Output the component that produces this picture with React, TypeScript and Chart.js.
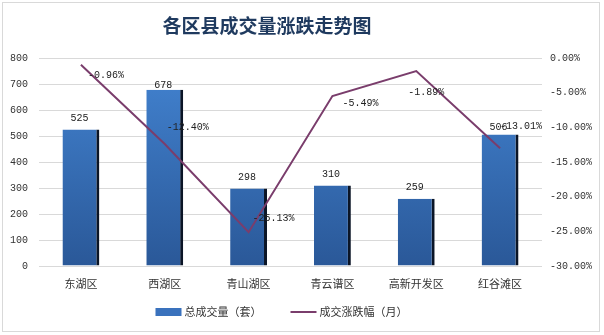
import React, { useEffect, useRef } from "react";
import { Chart, registerables } from "chart.js";

Chart.register(...registerables);

const title = "各区县成交量涨跌走势图";
const categories = ["东湖区", "西湖区", "青山湖区", "青云谱区", "高新开发区", "红谷滩区"];
const volumes = [525, 678, 298, 310, 259, 506];
const changes = [-0.96, -12.4, -25.13, -5.49, -1.89, -13.01];
const seriesNames = ["总成交量（套）", "成交涨跌幅（月）"];

const LINE_COLOR = "#7a3d6c";
const BAR_SWATCH = "#3a72bd";
const MONO = "'Liberation Mono', 'DejaVu Sans Mono', monospace";
const CJK = "'Noto Sans CJK SC', sans-serif";

const labelPlugin = {
  id: "valueLabels",
  afterDatasetsDraw(chart: any, _args: any, opts: any) {
    const ctx = chart.ctx;
    ctx.save();
    ctx.font = `10px ${MONO}`;
    ctx.fillStyle = "#222";
    ctx.textBaseline = "middle";
    const barMeta = chart.getDatasetMeta(0);
    barMeta.data.forEach((el: any, i: number) => {
      ctx.textAlign = "center";
      ctx.fillText(String(volumes[i]), el.x - 1.5, el.y - opts.barOffsets[i]);
    });
    const lineMeta = chart.getDatasetMeta(1);
    lineMeta.data.forEach((el: any, i: number) => {
      ctx.textAlign = "left";
      const [dx, dy] = opts.lineOffsets[i];
      ctx.fillText(changes[i].toFixed(2) + "%", el.x + dx, el.y + dy);
    });
    ctx.restore();
  },
  afterDraw(chart: any, _args: any, opts: any) {
    const ctx = chart.ctx;
    ctx.save();
    // title
    ctx.font = `bold 19px ${CJK}`;
    ctx.fillStyle = "#1f3a5f";
    ctx.textAlign = "center";
    ctx.textBaseline = "middle";
    ctx.fillText(title, opts.titleX, opts.titleY);

    // legend
    ctx.font = `11px ${CJK}`;
    const names = chart.data.datasets.map((d: any) => d.label);
    const sw = 26;
    const gapText = 3;
    const gapItem = 29;
    const widths = names.map((n: string) => ctx.measureText(n).width);
    const total = widths.reduce((a: number, w: number) => a + sw + gapText + w, 0) + gapItem * (names.length - 1);
    let x = opts.legendX - total / 2;
    const y = opts.legendY;
    ctx.textAlign = "left";
    ctx.fillStyle = "#333";
    names.forEach((n: string, i: number) => {
      if (i === 0) {
        ctx.fillStyle = BAR_SWATCH;
        ctx.fillRect(x, y - 4, sw, 8);
      } else {
        ctx.strokeStyle = LINE_COLOR;
        ctx.lineWidth = 2;
        ctx.beginPath();
        ctx.moveTo(x, y);
        ctx.lineTo(x + sw, y);
        ctx.stroke();
      }
      ctx.fillStyle = "#333";
      ctx.fillText(n, x + sw + gapText, y);
      x += sw + gapText + widths[i] + gapItem;
    });
    ctx.restore();
  },
};

export default function App() {
  const ref = useRef<HTMLCanvasElement | null>(null);

  useEffect(() => {
    document.body.style.margin = "0";
    const canvas = ref.current;
    if (!canvas) return;
    const chart = new Chart(canvas, {
      type: "bar",
      data: {
        labels: categories,
        datasets: [
          {
            type: "bar",
            label: seriesNames[0],
            data: volumes,
            yAxisID: "y",
            order: 2,
            backgroundColor: (c: any) => {
              const { ctx, chartArea } = c.chart;
              if (!chartArea) return BAR_SWATCH;
              const g = ctx.createLinearGradient(0, chartArea.top, 0, chartArea.bottom);
              g.addColorStop(0, "#4384d2");
              g.addColorStop(1, "#2a5898");
              return g;
            },
            borderColor: "#0b1526",
            borderWidth: { top: 0, left: 0, bottom: 0, right: 3 },
            borderSkipped: false,
            barPercentage: 0.44,
            categoryPercentage: 1,
          },
          {
            type: "line",
            label: seriesNames[1],
            data: changes,
            yAxisID: "y1",
            order: 1,
            borderColor: LINE_COLOR,
            backgroundColor: LINE_COLOR,
            borderWidth: 2,
            pointRadius: 0,
            tension: 0,
          },
        ],
      },
      options: {
        animation: false,
        responsive: false,
        maintainAspectRatio: false,
        layout: { padding: { top: 58, bottom: 39, left: 0, right: 0 } },
        scales: {
          x: {
            grid: { display: false, drawTicks: false },
            border: { display: false },
            ticks: { font: { family: CJK, size: 11 }, color: "#333", padding: 11 },
            afterFit: (s: any) => {
              s.height = 30;
            },
          },
          y: {
            position: "left",
            min: 0,
            max: 800,
            ticks: { stepSize: 100, font: { family: MONO, size: 10 }, color: "#333", padding: 11 },
            grid: { color: "#d9d9d9", drawTicks: false },
            border: { display: false },
            afterFit: (s: any) => {
              s.width = 39;
            },
          },
          y1: {
            position: "right",
            min: -30,
            max: 0,
            ticks: {
              stepSize: 5,
              font: { family: MONO, size: 10 },
              color: "#333",
              padding: 8,
              callback: (v: any) => Number(v).toFixed(2) + "%",
            },
            grid: { display: false, drawTicks: false },
            border: { display: false },
            afterFit: (s: any) => {
              s.width = 62;
            },
          },
        },
        plugins: {
          title: { display: false },
          legend: { display: false },
          tooltip: { enabled: false },
          valueLabels: {
            titleX: 267,
            titleY: 26,
            legendX: 281.5,
            legendY: 312,
            barOffsets: [11, 4, 11, 11, 11, 7],
            lineOffsets: [
              [7, 11],
              [2, -17],
              [4, -14],
              [10, 7],
              [-8, 21],
              [0, -22],
            ],
          },
        } as any,
      },
      plugins: [labelPlugin],
    } as any);
    return () => chart.destroy();
  }, []);

  return (
    <div style={{ position: "relative", width: 604, height: 335, background: "#fff" }}>
      <div
        style={{
          position: "absolute",
          left: 2,
          top: 2,
          width: 598,
          height: 330,
          border: "1px solid #d9d9d9",
          boxSizing: "border-box",
        }}
      />
      <canvas ref={ref} width={604} height={335} style={{ position: "absolute", left: 0, top: 0 }} />
    </div>
  );
}
